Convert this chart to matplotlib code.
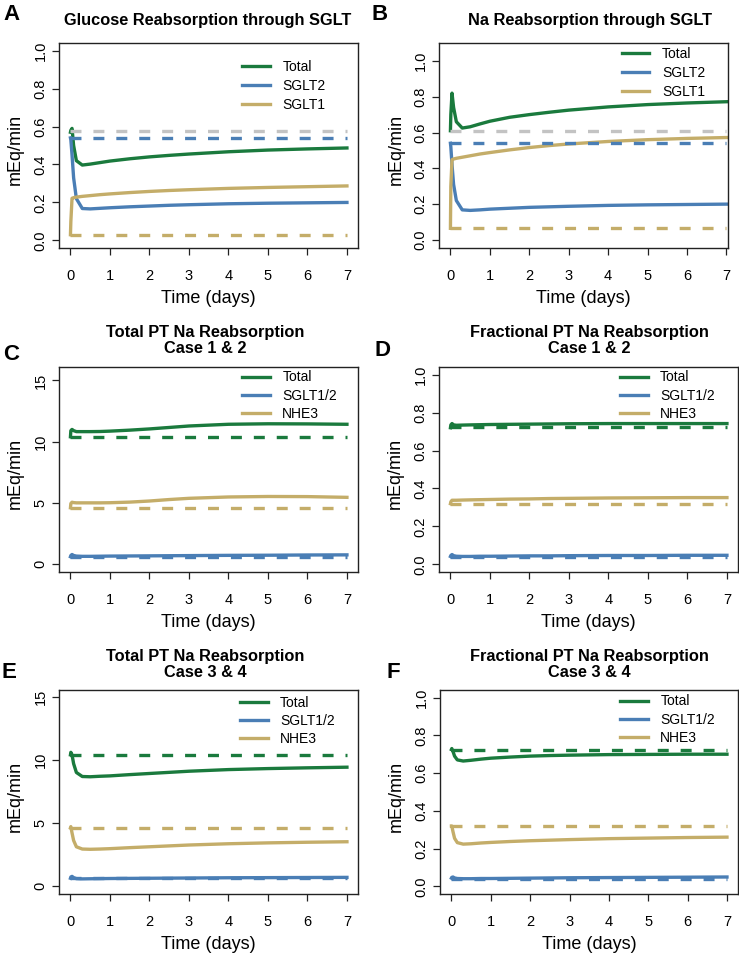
import numpy as np
import matplotlib
matplotlib.use('Agg')
import matplotlib.pyplot as plt
from matplotlib.lines import Line2D

plt.rcParams['font.family'] = ['Liberation Sans', 'DejaVu Sans']
plt.rcParams['lines.scale_dashes'] = False

GREEN = '#1a7a3d'
BLUE = '#4a7eb5'
TAN = '#c4ad69'
GRAY = '#c3c3c3'

# time points (days)
days = [0, 0.01, 0.04, 0.08, 0.15, 0.3, 0.5, 0.75, 1, 1.5, 2, 2.5, 3, 4, 5, 6, 7]

# A : glucose reabsorption through SGLT
glu_total = [0.57, 0.58, 0.59, 0.50, 0.42, 0.397, 0.402, 0.41, 0.418, 0.43, 0.44, 0.448, 0.455, 0.467, 0.476, 0.482, 0.487]
glu_sglt2 = [0.54, 0.53, 0.45, 0.33, 0.22, 0.168, 0.166, 0.169, 0.172, 0.177, 0.181, 0.185, 0.188, 0.193, 0.196, 0.198, 0.2]
glu_sglt1 = [0.03, 0.10, 0.222, 0.225, 0.228, 0.232, 0.236, 0.241, 0.245, 0.252, 0.258, 0.263, 0.267, 0.274, 0.279, 0.283, 0.287]
glu_base = [0.575, 0.54, 0.03]

# B : Na reabsorption through SGLT
na_total = [0.61, 0.70, 0.82, 0.74, 0.66, 0.625, 0.632, 0.648, 0.663, 0.685, 0.70, 0.713, 0.725, 0.743, 0.756, 0.765, 0.772]
na_sglt2 = [0.54, 0.52, 0.42, 0.31, 0.22, 0.168, 0.165, 0.168, 0.172, 0.177, 0.182, 0.185, 0.188, 0.193, 0.196, 0.198, 0.2]
na_sglt1 = [0.065, 0.30, 0.448, 0.452, 0.456, 0.462, 0.47, 0.48, 0.488, 0.503, 0.516, 0.527, 0.536, 0.55, 0.56, 0.567, 0.572]
na_base = [0.607, 0.54, 0.065]

# C : total PT Na, case 1 & 2
c_total = [10.4, 10.9, 11.0, 10.9, 10.82, 10.82, 10.82, 10.83, 10.86, 10.94, 11.04, 11.16, 11.28, 11.42, 11.46, 11.45, 11.42]
c_sglt = [0.6, 0.7, 0.78, 0.7, 0.65, 0.63, 0.63, 0.64, 0.65, 0.66, 0.67, 0.68, 0.69, 0.71, 0.72, 0.74, 0.75]
c_nhe3 = [4.6, 4.95, 5.05, 5.02, 5.0, 5.0, 5.0, 5.0, 5.01, 5.06, 5.15, 5.27, 5.37, 5.48, 5.52, 5.51, 5.45]
c_base = [10.4, 0.6, 4.6]

# D : fractional PT Na, case 1 & 2
d_total = [0.72, 0.735, 0.742, 0.735, 0.733, 0.734, 0.735, 0.736, 0.737, 0.738, 0.739, 0.74, 0.741, 0.742, 0.742, 0.742, 0.742]
d_sglt = [0.042, 0.047, 0.052, 0.046, 0.043, 0.042, 0.042, 0.043, 0.043, 0.044, 0.045, 0.045, 0.046, 0.047, 0.047, 0.048, 0.048]
d_nhe3 = [0.32, 0.33, 0.338, 0.338, 0.338, 0.339, 0.34, 0.341, 0.342, 0.344, 0.345, 0.347, 0.348, 0.35, 0.351, 0.352, 0.352]
d_base = [0.722, 0.04, 0.32]

# E : total PT Na, case 3 & 4
e_total = [10.4, 10.6, 10.4, 9.7, 9.0, 8.68, 8.66, 8.7, 8.73, 8.83, 8.92, 9.01, 9.1, 9.23, 9.31, 9.37, 9.42]
e_sglt = [0.6, 0.7, 0.75, 0.65, 0.57, 0.55, 0.56, 0.57, 0.58, 0.59, 0.6, 0.61, 0.62, 0.64, 0.65, 0.66, 0.67]
e_nhe3 = [4.6, 4.7, 4.2, 3.6, 3.1, 2.92, 2.9, 2.92, 2.95, 3.03, 3.1, 3.17, 3.24, 3.34, 3.41, 3.46, 3.5]
e_base = [10.4, 0.6, 4.6]

# F : fractional PT Na, case 3 & 4
f_total = [0.725, 0.73, 0.715, 0.69, 0.67, 0.664, 0.668, 0.674, 0.679, 0.685, 0.69, 0.693, 0.695, 0.698, 0.699, 0.70, 0.70]
f_sglt = [0.044, 0.048, 0.05, 0.045, 0.042, 0.041, 0.041, 0.042, 0.042, 0.043, 0.044, 0.045, 0.046, 0.047, 0.048, 0.049, 0.05]
f_nhe3 = [0.32, 0.32, 0.29, 0.255, 0.232, 0.224, 0.226, 0.23, 0.233, 0.238, 0.242, 0.245, 0.248, 0.253, 0.256, 0.259, 0.261]
f_base = [0.725, 0.04, 0.32]

W, H = 739, 957
fig = plt.figure(figsize=(W / 100, H / 100), dpi=100)
LW = 2.4


def add_panel(box, xlim, ylim, yticks, yfmt, series, colors, base, base_colors,
              labels, leg_xy, leg_space):
    l, r, t, b = box
    ax = fig.add_axes([l / W, (H - b) / H, (r - l) / W, (b - t) / H])
    for vals, col in zip(series, colors):
        ax.plot(days, vals, color=col, lw=LW, solid_joinstyle='round')
    for v, col in zip(base, base_colors):
        ax.plot([days[0], days[-1]], [v, v], color=col, lw=LW, dashes=(7.9, 8.6),
                dash_capstyle='butt')
    ax.set_xlim(xlim)
    ax.set_ylim(ylim)
    ax.set_xticks(range(8))
    ax.set_yticks(yticks)
    ax.set_yticklabels([yfmt % v for v in yticks])
    ax.tick_params(direction='out', length=4.8, width=0.9, labelsize=10.5, color='#222222')
    ax.tick_params(axis='x', pad=10.5)
    ax.tick_params(axis='y', pad=3.5, labelrotation=90)
    for lbl in ax.get_yticklabels():
        lbl.set_va('center')
    for sp in ax.spines.values():
        sp.set_linewidth(1.0)
        sp.set_color('#222222')
    ax.set_xlabel('Time (days)', fontsize=13)
    ax.xaxis.set_label_coords(0.5, -0.205)
    ax.set_ylabel('mEq/min', fontsize=13)
    ax.yaxis.set_label_coords(-0.118, 0.48)
    handles = [Line2D([], [], color=c, lw=LW) for c in colors]
    ax.legend(handles, labels, loc='upper left', bbox_to_anchor=leg_xy, frameon=False,
              fontsize=10, handlelength=2.0, handletextpad=0.9, labelspacing=leg_space,
              borderpad=0, borderaxespad=0)
    return ax


frac_ticks = [0.0, 0.2, 0.4, 0.6, 0.8, 1.0]
tot_ticks = [0, 5, 10, 15]

add_panel((59, 358, 43, 248), (-0.29, 7.28), (-0.04, 1.04), frac_ticks, '%.1f',
          [glu_total, glu_sglt2, glu_sglt1], [GREEN, BLUE, TAN],
          glu_base, [GRAY, BLUE, TAN], ['Total', 'SGLT2', 'SGLT1'], (0.612, 0.918), 0.37)
add_panel((439, 728, 43, 248), (-0.29, 7.04), (-0.045, 1.10), frac_ticks, '%.1f',
          [na_total, na_sglt2, na_sglt1], [GREEN, BLUE, TAN],
          na_base, [GRAY, BLUE, TAN], ['Total', 'SGLT2', 'SGLT1'], (0.632, 0.982), 0.37)
add_panel((59, 358, 367, 572), (-0.29, 7.28), (-0.65, 16.1), tot_ticks, '%d',
          [c_total, c_sglt, c_nhe3], [GREEN, BLUE, TAN],
          c_base, [GREEN, BLUE, TAN], ['Total', 'SGLT1/2', 'NHE3'], (0.612, 0.983), 0.3)
add_panel((439, 738, 367, 572), (-0.29, 7.28), (-0.04, 1.04), frac_ticks, '%.1f',
          [d_total, d_sglt, d_nhe3], [GREEN, BLUE, TAN],
          d_base, [GREEN, BLUE, TAN], ['Total', 'SGLT1/2', 'NHE3'], (0.605, 0.983), 0.3)
add_panel((59, 358, 690, 894), (-0.29, 7.28), (-0.65, 15.55), tot_ticks, '%d',
          [e_total, e_sglt, e_nhe3], [GREEN, BLUE, TAN],
          e_base, [GREEN, BLUE, TAN], ['Total', 'SGLT1/2', 'NHE3'], (0.605, 0.973), 0.3)
add_panel((440, 738, 690, 894), (-0.29, 7.28), (-0.04, 1.04), frac_ticks, '%.1f',
          [f_total, f_sglt, f_nhe3], [GREEN, BLUE, TAN],
          f_base, [GREEN, BLUE, TAN], ['Total', 'SGLT1/2', 'NHE3'], (0.604, 0.978), 0.3)


def ftext(x, y, s, **kw):
    fig.text(x / W, 1 - y / H, s, ha='center', va='center', **kw)


# titles
TS = 11.8
ftext(208, 20, 'Glucose Reabsorption through SGLT', fontsize=TS, fontweight='bold')
ftext(590, 20, 'Na Reabsorption through SGLT', fontsize=TS, fontweight='bold')
ftext(205, 340.5, 'Total PT Na Reabsorption\nCase 1 & 2', fontsize=TS, fontweight='bold', linespacing=1.1)
ftext(589, 340.5, 'Fractional PT Na Reabsorption\nCase 1 & 2', fontsize=TS, fontweight='bold', linespacing=1.1)
ftext(205, 664.5, 'Total PT Na Reabsorption\nCase 3 & 4', fontsize=TS, fontweight='bold', linespacing=1.1)
ftext(589, 664.5, 'Fractional PT Na Reabsorption\nCase 3 & 4', fontsize=TS, fontweight='bold', linespacing=1.1)

# panel letters
for x, y, s in [(11.5, 15, 'A'), (380, 15, 'B'), (11, 355, 'C'),
                (382, 351, 'D'), (9, 672, 'E'), (393, 672, 'F')]:
    ftext(x, y, s, fontsize=16, fontweight='bold')

fig.savefig('out.png', dpi=100)
